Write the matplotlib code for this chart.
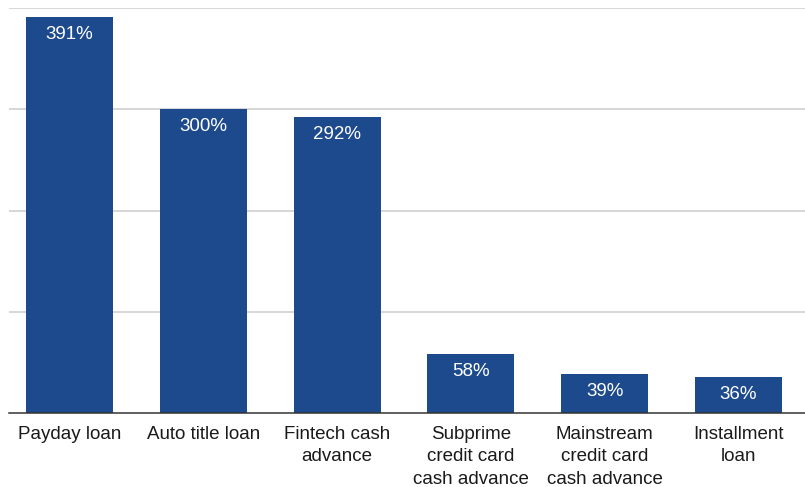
import matplotlib
matplotlib.use("Agg")
import matplotlib.pyplot as plt
import numpy as np

plt.rcParams["font.family"] = ["Liberation Sans", "DejaVu Sans"]

categories = ["Payday loan", "Auto title loan", "Fintech cash\nadvance",
              "Subprime\ncredit card\ncash advance", "Mainstream\ncredit card\ncash advance",
              "Installment\nloan"]
apr = [391, 300, 292, 58, 39, 36]

BLUE = "#1c4a8c"

fig = plt.figure(figsize=(8.05, 4.87), dpi=100)
ax = fig.add_axes([9 / 805, 1 - 413 / 487, 796 / 805, 405 / 487])

x = np.arange(len(categories))
bars = ax.bar(x, apr, 0.65, color=BLUE, zorder=3)

for bar, v in zip(bars, apr):
    ax.annotate(f"{v}%",
                xy=(bar.get_x() + bar.get_width() / 2, bar.get_height()),
                xytext=(0, -6.5), textcoords="offset points",
                ha="center", va="top", fontsize=13.5, color="white", zorder=4)

ax.set_xlim(-0.452, 5.497)
ax.set_ylim(0, 400)
ax.set_yticks([100, 200, 300, 400])
ax.yaxis.grid(True, color="#cccccc", linewidth=1.1)
ax.tick_params(axis="y", length=0, labelleft=False)
ax.set_xticks(x)
ax.set_xticklabels(categories, fontsize=13.5, linespacing=1.4, color="#1a1a1a")
ax.tick_params(axis="x", length=0, pad=9.5)
for s in ["top", "right", "left"]:
    ax.spines[s].set_visible(False)
ax.spines["bottom"].set_color("#333333")
ax.spines["bottom"].set_linewidth(1.1)
ax.spines["bottom"].set_zorder(5)
ax.set_axisbelow(True)

fig.savefig("out.png", dpi=100)
